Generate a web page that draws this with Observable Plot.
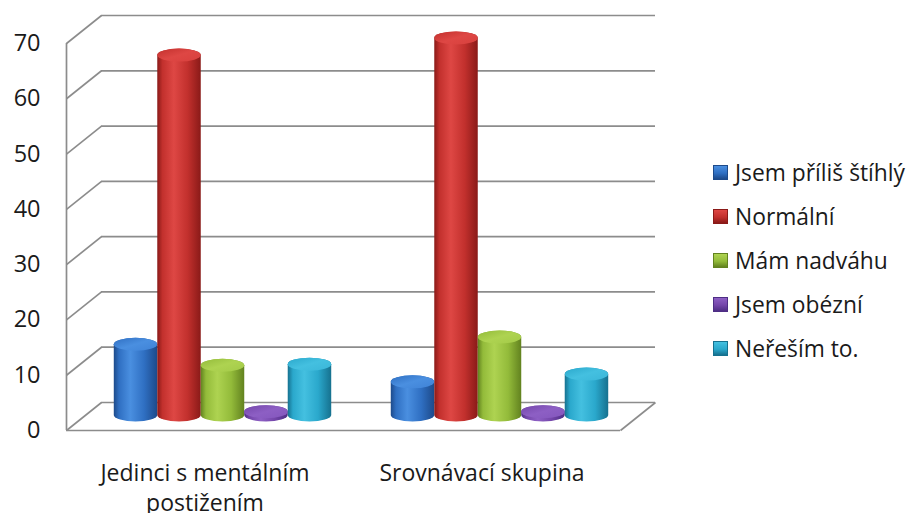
<!DOCTYPE html>
<html>
<head>
<meta charset="utf-8">
<script src="https://cdn.jsdelivr.net/npm/d3@7"></script>
<script src="https://cdn.jsdelivr.net/npm/@observablehq/plot@0.6"></script>
<style>
  html, body { margin: 0; padding: 0; background: #fff; }
  #wrap { position: relative; width: 912px; height: 513px; overflow: hidden; font-family: "Open Sans", Lato, sans-serif; }
  #legend { position: absolute; left: 713px; top: 150px; }
  .row { display: flex; align-items: center; height: 44.2px; font-size: 22.8px; color: #1a1a1a; white-space: nowrap; }
  .sw { width: 15px; height: 15px; margin-right: 7px; box-sizing: border-box; }
  #chart svg g[aria-label^="y-axis"] text { font-size: 23.5px; }
</style>
</head>
<body>
<div id="wrap"><div id="chart"></div><div id="legend"></div></div>
<script>
(() => {
// ---- data ----
const groups = ["Jedinci s mentálním postižením", "Srovnávací skupina"];
const groupLabels = ["Jedinci s mentálním\npostižením", "Srovnávací skupina"];
const series = ["Jsem příliš štíhlý", "Normální", "Mám nadváhu", "Jsem obézní", "Neřeším to."];
const valuesGroup1 = [12.8, 65.1, 9.0, 0.6, 9.2];
const valuesGroup2 = [6.0, 68.2, 14.1, 0.6, 7.4];
const yTicks = [0, 10, 20, 30, 40, 50, 60, 70];

// ---- styling ----
const seriesColors = [
  {dark: "#1d4a8a", mid: "#2f6fc2", light: "#4a8fe0", cap: "#3f82d6"},
  {dark: "#8a1a18", mid: "#c2302d", light: "#de4744", cap: "#d8403d"},
  {dark: "#62821f", mid: "#93bb3a", light: "#aed351", cap: "#a3ca48"},
  {dark: "#4e2e85", mid: "#7446aa", light: "#8d5fc4", cap: "#8456bd"},
  {dark: "#16718f", mid: "#2aa8cc", light: "#44c0e0", cap: "#3ab6d8"}
];
const gridColor = "#8c8c8c";
const fontFamily = "'Open Sans', Lato, sans-serif";
const fontSize = 23;

// ---- layout ----
const W = 912, H = 513;
const plotLeft = 66, plotRight = 620, plotTop = 43, plotBase = 430;
const depthX = 35, depthY = 28;          // back wall offset, px
const barDx = 18, barDy = -15;           // bars at mid depth, px
const barW = 0.157;                      // bar width in group units
const capRy = 6.5;

const xUnitPx = (plotRight - plotLeft) / groups.length;
const yUnitPx = (plotBase - plotTop) / 70;
const dxu = depthX / xUnitPx, dyu = depthY / yUnitPx;

const rows = [];
[valuesGroup1, valuesGroup2].forEach((vals, gi) => {
  vals.forEach((v, si) => {
    const x1 = gi + 0.5 + (si - 2.5) * barW;
    rows.push({gi, si, group: groups[gi], series: series[si], value: v, x1, x2: x1 + barW});
  });
});

const labelRows = groupLabels.map((t, gi) => ({t, x: gi + 0.5}));

const barMarks = series.flatMap((s, si) => {
  const d = rows.filter(r => r.si === si);
  return [
    Plot.rect(d, {x1: "x1", x2: "x2", y1: 0, y2: "value", insetTop: -capRy, insetBottom: -capRy,
      rx: 40, ry: capRy, fill: `url(#cyl${si})`, dx: barDx, dy: barDy}),
    Plot.rect(d, {x1: "x1", x2: "x2", y1: "value", y2: "value", insetTop: -capRy, insetBottom: -capRy,
      rx: 40, ry: capRy, fill: `url(#cap${si})`, dx: barDx, dy: barDy})
  ];
});

const svg = Plot.plot({
  width: W,
  height: H,
  marginLeft: plotLeft,
  marginRight: W - plotRight,
  marginTop: plotTop,
  marginBottom: H - plotBase,
  style: {fontFamily, fontSize: fontSize + "px", background: "#fff", color: "#1a1a1a", overflow: "visible"},
  x: {domain: [0, groups.length], axis: null},
  y: {domain: [0, 70], ticks: yTicks, tickSize: 0, tickPadding: 26, label: null, tickFormat: d => String(d)},
  marks: [
    Plot.ruleY(yTicks, {y: d => d, dx: depthX, dy: -depthY, stroke: gridColor, strokeWidth: 1.7}),
    Plot.link(yTicks, {x1: 0, y1: d => d, x2: dxu, y2: d => d + dyu, stroke: gridColor, strokeWidth: 1.7}),
    Plot.link([0], {x1: groups.length, y1: 0, x2: groups.length + dxu, y2: dyu, stroke: gridColor, strokeWidth: 1.7}),
    Plot.ruleY([0], {stroke: gridColor, strokeWidth: 1.7}),
    Plot.ruleX([0], {stroke: gridColor, strokeWidth: 1.7}),
    ...barMarks,
    Plot.text(labelRows, {x: "x", y: 0, text: "t", dy: 29, lineAnchor: "top", lineHeight: 1.3, fontSize, fill: "#1a1a1a"})
  ]
});

const defs = d3.select(svg).insert("defs", ":first-child");
seriesColors.forEach((c, i) => {
  const g = defs.append("linearGradient").attr("id", `cyl${i}`).attr("x1", 0).attr("x2", 1).attr("y1", 0).attr("y2", 0);
  [[0, c.dark], [0.12, c.mid], [0.38, c.light], [0.7, c.mid], [1, c.dark]].forEach(([o, col]) =>
    g.append("stop").attr("offset", o).attr("stop-color", col));
  const g2 = defs.append("linearGradient").attr("id", `cap${i}`).attr("x1", 0).attr("x2", 1).attr("y1", 0).attr("y2", 1);
  [[0, c.mid], [0.5, c.light], [1, c.cap]].forEach(([o, col]) =>
    g2.append("stop").attr("offset", o).attr("stop-color", col));
});

document.getElementById("chart").appendChild(svg);

const legend = document.getElementById("legend");
series.forEach((s, i) => {
  const c = seriesColors[i];
  const row = document.createElement("div");
  row.className = "row";
  const sw = document.createElement("div");
  sw.className = "sw";
  sw.style.background = `linear-gradient(180deg, ${c.light}, ${c.mid} 55%, ${c.dark})`;
  sw.style.border = `1px solid ${c.dark}`;
  const tx = document.createElement("span");
  tx.textContent = s;
  row.appendChild(sw);
  row.appendChild(tx);
  legend.appendChild(row);
});
})();
</script>
</body>
</html>
